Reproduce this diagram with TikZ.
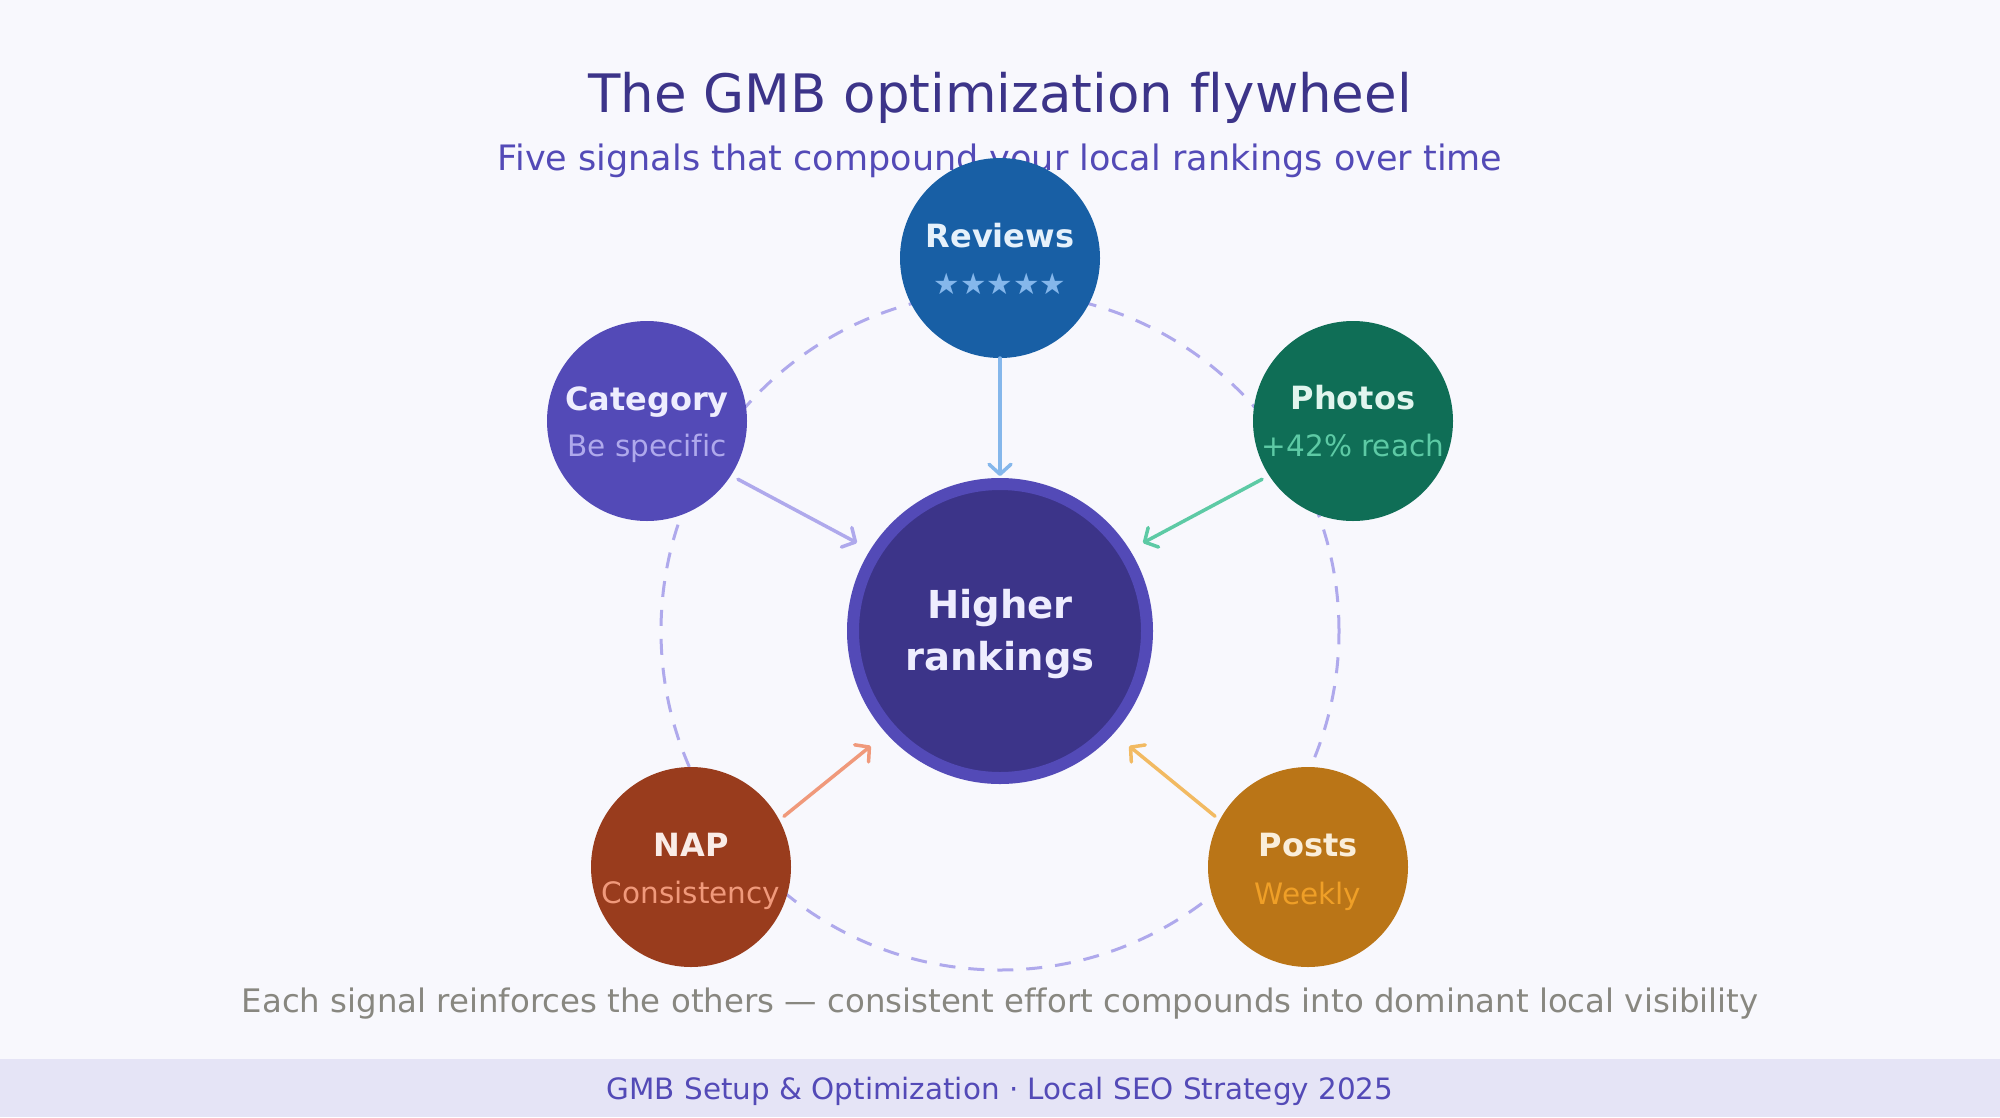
\documentclass[tikz,border=0pt]{standalone}
\usepackage{fontspec}
\setmainfont{DejaVu Sans}[Ligatures={NoCommon}]
\usetikzlibrary{arrows.meta}
\definecolor{bgc}{HTML}{F8F8FD}
\definecolor{footc}{HTML}{E5E4F6}
\definecolor{titlec}{HTML}{3C3489}
\definecolor{subc}{HTML}{534AB7}
\definecolor{capc}{HTML}{888780}
\definecolor{ringc}{HTML}{AFA9EC}
\definecolor{hubout}{HTML}{534AB7}
\definecolor{hubin}{HTML}{3C3489}
\definecolor{hubtxt}{HTML}{EEEDFE}
\definecolor{revf}{HTML}{185FA5}
\definecolor{revl}{HTML}{E6F1FB}
\definecolor{reva}{HTML}{85B7EB}
\definecolor{catf}{HTML}{534AB7}
\definecolor{catl}{HTML}{EEEDFE}
\definecolor{cata}{HTML}{AFA9EC}
\definecolor{phof}{HTML}{0F6E56}
\definecolor{phol}{HTML}{E1F5EE}
\definecolor{phoa}{HTML}{5DCAA5}
\definecolor{napf}{HTML}{993C1D}
\definecolor{napl}{HTML}{FAECE7}
\definecolor{napa}{HTML}{F0997B}
\definecolor{posf}{HTML}{BA7517}
\definecolor{posl}{HTML}{FAEEDA}
\definecolor{posa}{HTML}{EF9F27}
\definecolor{posarr}{HTML}{F2BA62}
\tikzset{
  sat/.style={circle, minimum size=200pt, inner sep=0pt, outer sep=0pt},
  lbl/.style={anchor=base, inner sep=0pt, font=\fontsize{32}{38}\selectfont\bfseries},
  sublbl/.style={anchor=base, inner sep=0pt, font=\fontsize{29.5}{35}\selectfont},
  arr/.style={line width=3.5pt, line cap=round, -{Straight Barb[length=10pt,width=22pt,line cap=round,line join=round]}},
}
\begin{document}
\begin{tikzpicture}[x=1pt,y=-1pt]
\fill[bgc] (0,0) rectangle (2000,1117);
\useasboundingbox (0,0) rectangle (2000,1117);
\fill[footc] (0,1059) rectangle (2000,1117);

\node[anchor=base, text=titlec, font=\fontsize{53}{63}\selectfont] (title) at (1000,112) {The GMB optimization flywheel};
\node[anchor=base, text=subc, font=\fontsize{35}{42}\selectfont] (subtitle) at (1000,170) {Five signals that compound your local rankings over time};

\node[circle, minimum size=678pt, inner sep=0pt, draw=ringc, line width=3pt, dash pattern=on 16pt off 13pt] (ring) at (1000,631) {};

\node[sat, fill=revf] (rev) at (1000,258) {};
\node[sat, fill=catf] (cat) at (647,421) {};
\node[sat, fill=phof] (pho) at (1353,421) {};
\node[sat, fill=napf] (nap) at (691,867) {};
\node[sat, fill=posf] (pos) at (1308,867) {};
\node[circle, minimum size=294pt, inner sep=0pt, fill=hubin, draw=hubout, line width=12pt] (hub) at (1000,631) {};

\node[lbl, text=revl] (revt) at (1000,247) {Reviews};
\node[anchor=base, inner sep=0pt, text=reva, font=\fontsize{29.5}{34}\selectfont] (revs) at (1000,294) {★★★★★};
\node[lbl, text=catl] (catt) at (647,410) {Category};
\node[sublbl, text=cata] (cats) at (647,456) {Be specific};
\node[lbl, text=phol] (phot) at (1353,409) {Photos};
\node[sublbl, text=phoa] (phos) at (1353,456) {+42\% reach};
\node[lbl, text=napl] (napt) at (691,856) {NAP};
\node[sublbl, text=napa] (naps) at (691,903) {Consistency};
\node[lbl, text=posl] (post) at (1308,856) {Posts};
\node[sublbl, text=posa] (poss) at (1308,904) {Weekly};

\node[anchor=base, inner sep=0pt, text=hubtxt, font=\fontsize{38.5}{46}\selectfont\bfseries] (hubt1) at (1000,618) {Higher};
\node[anchor=base, inner sep=0pt, text=hubtxt, font=\fontsize{38.5}{46}\selectfont\bfseries] (hubt2) at (1000,670) {rankings};

\draw[arr, reva, shorten >=2pt] (rev) -- (hub);
\draw[arr, cata, shorten <=8pt, shorten >=15pt] (cat.-33) -- (hub.148);
\draw[arr, phoa, shorten <=8pt, shorten >=15pt] (pho.213) -- (hub.32);
\draw[arr, napa, shorten <=6pt, shorten >=20pt] (nap.28) -- (hub.222);
\draw[arr, posarr, shorten <=6pt, shorten >=20pt] (pos.152) -- (hub.318);

\node[anchor=base, text=capc, font=\fontsize{32.4}{38}\selectfont] (caption) at (1000,1012) {Each signal reinforces the others — consistent effort compounds into dominant local visibility};
\node[anchor=base, text=subc, font=\fontsize{29.4}{35}\selectfont] (footer) at (1000,1099) {GMB Setup \& Optimization · Local SEO Strategy 2025};
\end{tikzpicture}
\end{document}
